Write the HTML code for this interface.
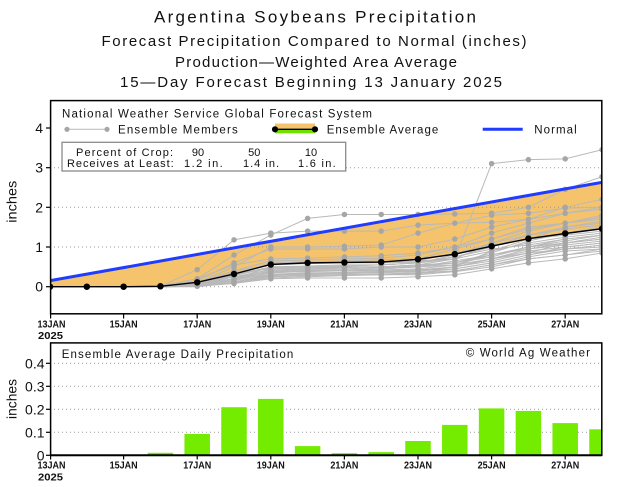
<!DOCTYPE html>
<html><head><meta charset="utf-8"><style>
html,body{margin:0;padding:0;background:#fff;}
svg{display:block;}
text{font-family:"Liberation Sans",sans-serif;fill:#111;}
.tk{font-weight:bold;font-size:10.5px;}
.gl{stroke:#999;stroke-width:1;stroke-dasharray:1 3;}
.ml{fill:none;stroke:#b9b9b9;stroke-width:1;vector-effect:non-scaling-stroke;}
.md{fill:none;stroke:#a6a6a6;stroke-width:5.5;stroke-linecap:round;vector-effect:non-scaling-stroke;}
</style></head><body>
<svg width="620" height="487" viewBox="0 0 620 487" xmlns="http://www.w3.org/2000/svg">
<rect width="620" height="487" fill="#fff"/>
<defs>
<clipPath id="c1"><rect x="50" y="100" width="552" height="214"/></clipPath>
<clipPath id="c2"><rect x="50" y="342" width="552" height="114"/></clipPath>
</defs>

<!-- Titles -->
<text x="315" y="22.5" font-size="17" text-anchor="middle" textLength="322" lengthAdjust="spacing">Argentina Soybeans Precipitation</text>
<text x="314" y="46" font-size="15" text-anchor="middle" textLength="425" lengthAdjust="spacing">Forecast Precipitation Compared to Normal (inches)</text>
<text x="316" y="67" font-size="15" text-anchor="middle" textLength="282" lengthAdjust="spacing">Production—Weighted Area Average</text>
<text x="311" y="87" font-size="15" text-anchor="middle" textLength="382" lengthAdjust="spacing">15—Day Forecast Beginning 13 January 2025</text>

<!-- ===== Top chart ===== -->
<g clip-path="url(#c1)">
<g transform="translate(50,286.7) scale(36.8,-39.7)">
<polygon fill="#f5c36c" points="0,0.15 15,2.63 15,1.46 14,1.34 13,1.21 12,1.02 11,0.82 10,0.69 9,0.62 8,0.61 7,0.60 6,0.56 5,0.32 4,0.11 3,0.01 2,0 1,0 0,0"/>
</g>
<line class="gl" x1="50" y1="286.7" x2="602" y2="286.7"/>
<line class="gl" x1="50" y1="247" x2="602" y2="247"/>
<line class="gl" x1="50" y1="207.3" x2="602" y2="207.3"/>
<line class="gl" x1="50" y1="167.7" x2="602" y2="167.7"/>
<g transform="translate(50,286.7) scale(36.8,-39.7)">
<polyline class="ml" points="0,0 1,0 2,0 3,0 4,.05 5,.3 6,.6 7,.62 8,.63 9,.63 10,.65 11,.7 12,3.1 13,3.2 14,3.22 15,3.45"/>
<polyline class="ml" points="0,0 1,0 2,0 3,.02 4,.2 5,.8 6,1.3 7,1.72 8,1.82 9,1.82 10,1.82 11,1.83 12,1.85 13,2.0 14,2.45 15,2.77"/>
<polyline class="ml" points="0,0 1,0 2,0 3,.01 4,.43 5,1.18 6,1.35 7,1.4 8,1.4 9,1.4 10,1.55 11,1.6 12,1.62 13,1.7 14,1.85 15,2.0"/>
<polyline class="ml" points="0,0 1,0 2,0 3,0 4,.1 5,.5 6,1.0 7,1.0 8,1.02 9,1.05 10,1.35 11,1.6 12,1.8 13,1.85 14,1.98 15,2.0"/>
<polyline class="ml" points="0,0 1,0 2,0 3,0 4,.15 5,.6 6,.95 7,.95 8,.95 9,1.0 10,1.0 11,1.2 12,1.5 13,1.7 14,2.0 15,2.2"/>
<polyline class="ml" points="0,0 1,0 2,0 3,.01 4,.1 5,.4 6,.65 7,.67 8,.7 9,.72 10,.8 11,1.0 12,1.35 13,1.6 14,1.85 15,1.95"/>
<polyline class="ml" points="0,0 1,0 2,0 3,0 4,.05 5,.3 6,.6 7,.62 8,.65 9,.68 10,.7 11,.95 12,1.2 13,1.5 14,1.6 15,1.8"/>
<polyline class="ml" points="0,0 1,0 2,0 3,0 4,.08 5,.2 6,.5 7,.5 8,.52 9,.55 10,.6 11,.75 12,1.0 13,1.3 14,1.5 15,1.65"/>
<polyline class="ml" points="0,0 1,0 2,0 3,0 4,.05 5,.15 6,.4 7,.45 8,.48 9,.5 10,.55 11,.7 12,1.1 13,1.4 14,1.6 15,1.7"/>
<polyline class="ml" points="0,0 1,0 2,0 3,0 4,.02 5,.1 6,.3 7,.35 8,.35 9,.37 10,.4 11,.5 12,.9 13,1.2 14,1.5 15,1.6"/>
<polyline class="ml" points="0,0 1,0 2,0 3,0 4,.1 5,.35 6,.45 7,.5 8,.5 9,.5 10,.55 11,.6 12,.8 13,1.0 14,1.2 15,1.3"/>
<polyline class="ml" points="0,0 1,0 2,0 3,0 4,.05 5,.25 6,.35 7,.38 8,.4 9,.4 10,.42 11,.5 12,.7 13,.9 14,1.0 15,1.1"/>
<polyline class="ml" points="0,0 1,0 2,0 3,0 4,.03 5,.12 6,.25 7,.28 8,.3 9,.3 10,.35 11,.45 12,.6 13,.8 14,.95 15,1.05"/>
<polyline class="ml" points="0,0 1,0 2,0 3,0 4,.01 5,.08 6,.2 7,.22 8,.22 9,.22 10,.25 11,.3 12,.45 13,.6 14,.7 15,.85"/>
<polyline class="ml" points="0,0 1,0 2,0 3,0 4,.02 5,.1 6,.3 7,.32 8,.33 9,.35 10,.38 11,.5 12,.65 13,.85 14,1.1 15,1.25"/>
<polyline class="ml" points="0,0 1,0 2,0 3,0 4,.1 5,.4 6,.55 7,.6 8,.6 9,.62 10,.65 11,.85 12,1.05 13,1.2 14,1.3 15,1.4"/>
<polyline class="ml" points="0,0 1,0 2,0 3,0 4,.05 5,.2 6,.45 7,.47 8,.5 9,.5 10,.52 11,.6 12,.75 13,1.0 14,1.1 15,1.2"/>
<polyline class="ml" points="0,0 1,0 2,0 3,0 4,.02 5,.15 6,.35 7,.4 8,.42 9,.45 10,.5 11,.55 12,.7 13,.85 14,.95 15,1.0"/>
<polyline class="ml" points="0,0 1,0 2,0 3,0 4,.08 5,.3 6,.5 7,.52 8,.55 9,.55 10,.6 11,.7 12,.9 13,1.1 14,1.25 15,1.35"/>
<polyline class="ml" points="0,0 1,0 2,0 3,0 4,0 5,.1 6,.28 7,.3 8,.3 9,.32 10,.35 11,.4 12,.55 13,.75 14,.9 15,.95"/>
<polyline class="ml" points="0,0 1,0 2,0 3,.01 4,.2 5,.55 6,.7 7,.72 8,.75 9,.78 10,.85 11,1.0 12,1.2 13,1.45 14,1.6 15,1.75"/>
<polyline class="ml" points="0,0 1,0 2,0 3,0 4,.05 5,.2 6,.4 7,.42 8,.42 9,.45 10,.5 11,.65 12,.8 13,.95 14,1.05 15,1.15"/>
<polyline class="ml" points="0,0 1,0 2,0 3,0 4,.02 5,.1 6,.22 7,.25 8,.28 9,.3 10,.3 11,.38 12,.5 13,.7 14,.8 15,.9"/>
<polyline class="ml" points="0,0 1,0 2,0 3,0 4,.03 5,.18 6,.38 7,.4 8,.4 9,.42 10,.45 11,.55 12,.8 13,1.0 14,1.15 15,1.3"/>
<polyline class="ml" points="0,0 1,0 2,0 3,0 4,.06 5,.25 6,.42 7,.45 8,.45 9,.48 10,.5 11,.6 12,.85 13,1.15 14,1.35 15,1.5"/>
<polyline class="ml" points="0,0 1,0 2,0 3,0 4,.04 5,.35 6,.55 7,.58 8,.6 9,.6 10,.62 11,.75 12,.95 13,1.05 14,1.2 15,1.3"/>
<polyline class="ml" points="0,0 1,0 2,0 3,0 4,.02 5,.12 6,.32 7,.34 8,.36 9,.38 10,.4 11,.45 12,.6 13,.8 14,1.0 15,1.1"/>
<polyline class="ml" points="0,0 1,0 2,0 3,0 4,.07 5,.28 6,.48 7,.5 8,.52 9,.55 10,.6 11,.8 12,1.1 13,1.3 14,1.45 15,1.55"/>
<polyline class="ml" points="0,0 1,0 2,0 3,0 4,.01 5,.1 6,.25 7,.28 8,.3 9,.3 10,.33 11,.4 12,.55 13,.7 14,.8 15,.95"/>
<polyline class="ml" points="0,0 1,0 2,0 3,0 4,.04 5,.2 6,.3 7,.32 8,.35 9,.38 10,.42 11,.5 12,.7 13,.95 14,1.1 15,1.2"/>
<path class="md" d="M4,.05h.001M5,.3h.001M6,.6h.001M7,.62h.001M8,.63h.001M9,.63h.001M10,.65h.001M11,.7h.001M12,3.1h.001M13,3.2h.001M14,3.22h.001M15,3.45h.001
M4,.2h.001M5,.8h.001M6,1.3h.001M7,1.72h.001M8,1.82h.001M9,1.82h.001M10,1.82h.001M11,1.83h.001M12,1.85h.001M13,2.0h.001M14,2.45h.001M15,2.77h.001
M4,.43h.001M5,1.18h.001M6,1.35h.001M7,1.4h.001M8,1.4h.001M9,1.4h.001M10,1.55h.001M11,1.6h.001M12,1.62h.001M13,1.7h.001M14,1.85h.001M15,2.0h.001
M4,.1h.001M5,.5h.001M6,1.0h.001M7,1.0h.001M8,1.02h.001M9,1.05h.001M10,1.35h.001M11,1.6h.001M12,1.8h.001M13,1.85h.001M14,1.98h.001M15,2.0h.001
M4,.15h.001M5,.6h.001M6,.95h.001M7,.95h.001M8,.95h.001M9,1.0h.001M10,1.0h.001M11,1.2h.001M12,1.5h.001M13,1.7h.001M14,2.0h.001M15,2.2h.001
M4,.1h.001M5,.4h.001M6,.65h.001M7,.67h.001M8,.7h.001M9,.72h.001M10,.8h.001M11,1.0h.001M12,1.35h.001M13,1.6h.001M14,1.85h.001M15,1.95h.001
M4,.05h.001M5,.3h.001M6,.6h.001M7,.62h.001M8,.65h.001M9,.68h.001M10,.7h.001M11,.95h.001M12,1.2h.001M13,1.5h.001M14,1.6h.001M15,1.8h.001
M4,.08h.001M5,.2h.001M6,.5h.001M7,.5h.001M8,.52h.001M9,.55h.001M10,.6h.001M11,.75h.001M12,1.0h.001M13,1.3h.001M14,1.5h.001M15,1.65h.001
M4,.05h.001M5,.15h.001M6,.4h.001M7,.45h.001M8,.48h.001M9,.5h.001M10,.55h.001M11,.7h.001M12,1.1h.001M13,1.4h.001M14,1.6h.001M15,1.7h.001
M4,.02h.001M5,.1h.001M6,.3h.001M7,.35h.001M8,.35h.001M9,.37h.001M10,.4h.001M11,.5h.001M12,.9h.001M13,1.2h.001M14,1.5h.001M15,1.6h.001
M4,.1h.001M5,.35h.001M6,.45h.001M7,.5h.001M8,.5h.001M9,.5h.001M10,.55h.001M11,.6h.001M12,.8h.001M13,1.0h.001M14,1.2h.001M15,1.3h.001
M4,.05h.001M5,.25h.001M6,.35h.001M7,.38h.001M8,.4h.001M9,.4h.001M10,.42h.001M11,.5h.001M12,.7h.001M13,.9h.001M14,1.0h.001M15,1.1h.001
M4,.03h.001M5,.12h.001M6,.25h.001M7,.28h.001M8,.3h.001M9,.3h.001M10,.35h.001M11,.45h.001M12,.6h.001M13,.8h.001M14,.95h.001M15,1.05h.001
M4,.01h.001M5,.08h.001M6,.2h.001M7,.22h.001M8,.22h.001M9,.22h.001M10,.25h.001M11,.3h.001M12,.45h.001M13,.6h.001M14,.7h.001M15,.85h.001
M4,.02h.001M5,.1h.001M6,.3h.001M7,.32h.001M8,.33h.001M9,.35h.001M10,.38h.001M11,.5h.001M12,.65h.001M13,.85h.001M14,1.1h.001M15,1.25h.001
M4,.1h.001M5,.4h.001M6,.55h.001M7,.6h.001M8,.6h.001M9,.62h.001M10,.65h.001M11,.85h.001M12,1.05h.001M13,1.2h.001M14,1.3h.001M15,1.4h.001
M4,.05h.001M5,.2h.001M6,.45h.001M7,.47h.001M8,.5h.001M9,.5h.001M10,.52h.001M11,.6h.001M12,.75h.001M13,1.0h.001M14,1.1h.001M15,1.2h.001
M4,.02h.001M5,.15h.001M6,.35h.001M7,.4h.001M8,.42h.001M9,.45h.001M10,.5h.001M11,.55h.001M12,.7h.001M13,.85h.001M14,.95h.001M15,1.0h.001
M4,.08h.001M5,.3h.001M6,.5h.001M7,.52h.001M8,.55h.001M9,.55h.001M10,.6h.001M11,.7h.001M12,.9h.001M13,1.1h.001M14,1.25h.001M15,1.35h.001
M5,.1h.001M6,.28h.001M7,.3h.001M8,.3h.001M9,.32h.001M10,.35h.001M11,.4h.001M12,.55h.001M13,.75h.001M14,.9h.001M15,.95h.001
M4,.2h.001M5,.55h.001M6,.7h.001M7,.72h.001M8,.75h.001M9,.78h.001M10,.85h.001M11,1.0h.001M12,1.2h.001M13,1.45h.001M14,1.6h.001M15,1.75h.001
M4,.05h.001M5,.2h.001M6,.4h.001M7,.42h.001M8,.42h.001M9,.45h.001M10,.5h.001M11,.65h.001M12,.8h.001M13,.95h.001M14,1.05h.001M15,1.15h.001
M4,.02h.001M5,.1h.001M6,.22h.001M7,.25h.001M8,.28h.001M9,.3h.001M10,.3h.001M11,.38h.001M12,.5h.001M13,.7h.001M14,.8h.001M15,.9h.001
M4,.03h.001M5,.18h.001M6,.38h.001M7,.4h.001M8,.4h.001M9,.42h.001M10,.45h.001M11,.55h.001M12,.8h.001M13,1.0h.001M14,1.15h.001M15,1.3h.001
M4,.06h.001M5,.25h.001M6,.42h.001M7,.45h.001M8,.45h.001M9,.48h.001M10,.5h.001M11,.6h.001M12,.85h.001M13,1.15h.001M14,1.35h.001M15,1.5h.001
M4,.04h.001M5,.35h.001M6,.55h.001M7,.58h.001M8,.6h.001M9,.6h.001M10,.62h.001M11,.75h.001M12,.95h.001M13,1.05h.001M14,1.2h.001M15,1.3h.001
M4,.02h.001M5,.12h.001M6,.32h.001M7,.34h.001M8,.36h.001M9,.38h.001M10,.4h.001M11,.45h.001M12,.6h.001M13,.8h.001M14,1.0h.001M15,1.1h.001
M4,.07h.001M5,.28h.001M6,.48h.001M7,.5h.001M8,.52h.001M9,.55h.001M10,.6h.001M11,.8h.001M12,1.1h.001M13,1.3h.001M14,1.45h.001M15,1.55h.001
M4,.01h.001M5,.1h.001M6,.25h.001M7,.28h.001M8,.3h.001M9,.3h.001M10,.33h.001M11,.4h.001M12,.55h.001M13,.7h.001M14,.8h.001M15,.95h.001
M4,.04h.001M5,.2h.001M6,.3h.001M7,.32h.001M8,.35h.001M9,.38h.001M10,.42h.001M11,.5h.001M12,.7h.001M13,.95h.001M14,1.1h.001M15,1.2h.001"/>
<polyline fill="none" stroke="#000" stroke-width="1.4" vector-effect="non-scaling-stroke" points="0,0 1,0 2,0 3,0.01 4,0.11 5,0.32 6,0.56 7,0.60 8,0.61 9,0.62 10,0.69 11,0.82 12,1.02 13,1.21 14,1.34 15,1.46"/>
<path fill="none" stroke="#000" stroke-width="6.5" stroke-linecap="round" vector-effect="non-scaling-stroke" d="M0,0h.001M1,0h.001M2,0h.001M3,.01h.001M4,.11h.001M5,.32h.001M6,.56h.001M7,.6h.001M8,.61h.001M9,.62h.001M10,.69h.001M11,.82h.001M12,1.02h.001M13,1.21h.001M14,1.34h.001M15,1.46h.001"/>
</g>
<line x1="50" y1="280.7" x2="602" y2="182.3" stroke="#1f3cff" stroke-width="3"/>
</g>

<!-- Legend -->
<text x="62" y="117.6" font-size="11.5" textLength="310" lengthAdjust="spacing">National Weather Service Global Forecast System</text>
<line x1="67" y1="129.3" x2="107" y2="129.3" stroke="#b9b9b9" stroke-width="1"/>
<circle cx="67" cy="129.3" r="2.6" fill="#a6a6a6"/><circle cx="107" cy="129.3" r="2.6" fill="#a6a6a6"/>
<text x="118" y="133.5" font-size="11.5" textLength="119.7" lengthAdjust="spacing">Ensemble Members</text>
<rect x="275" y="123.5" width="40" height="5.8" fill="#f5c36c"/>
<rect x="275" y="129.3" width="40" height="4" fill="#6fe000"/>
<line x1="275" y1="129.3" x2="315" y2="129.3" stroke="#000" stroke-width="1.4"/>
<circle cx="275" cy="129.3" r="3.1" fill="#000"/><circle cx="315" cy="129.3" r="3.1" fill="#000"/>
<text x="326.7" y="133.5" font-size="11.5" textLength="111.6" lengthAdjust="spacing">Ensemble Average</text>
<line x1="482.7" y1="129.3" x2="522.7" y2="129.3" stroke="#1f3cff" stroke-width="3"/>
<text x="534.3" y="133.5" font-size="11.5" textLength="42.4" lengthAdjust="spacing">Normal</text>

<rect x="62" y="142.3" width="283.7" height="28.7" fill="#fff" stroke="#8a8a8a" stroke-width="1.3"/>
<text x="76" y="155.8" font-size="11" textLength="97" lengthAdjust="spacing">Percent of Crop:</text>
<text x="198" y="155.8" font-size="11" text-anchor="middle">90</text>
<text x="254.3" y="155.8" font-size="11" text-anchor="middle">50</text>
<text x="311" y="155.8" font-size="11" text-anchor="middle">10</text>
<text x="67" y="166.8" font-size="11" textLength="106.7" lengthAdjust="spacing">Receives at Least:</text>
<text x="184" y="166.8" font-size="11" textLength="38.7" lengthAdjust="spacing">1.2 in.</text>
<text x="243" y="166.8" font-size="11" textLength="36" lengthAdjust="spacing">1.4 in.</text>
<text x="298" y="166.8" font-size="11" textLength="37.7" lengthAdjust="spacing">1.6 in.</text>

<!-- frame & axes top -->
<rect x="50.6" y="100.6" width="551.2" height="213.2" fill="none" stroke="#000" stroke-width="1.5"/>
<g stroke="#000" stroke-width="1.2">
<line x1="46" y1="286.7" x2="50" y2="286.7"/><line x1="46" y1="247" x2="50" y2="247"/>
<line x1="46" y1="207.3" x2="50" y2="207.3"/><line x1="46" y1="167.7" x2="50" y2="167.7"/>
<line x1="46" y1="128" x2="50" y2="128"/>
<line x1="50.6" y1="314" x2="50.6" y2="318.5"/><line x1="123.6" y1="314" x2="123.6" y2="318.5"/>
<line x1="197.2" y1="314" x2="197.2" y2="318.5"/><line x1="270.8" y1="314" x2="270.8" y2="318.5"/>
<line x1="344.4" y1="314" x2="344.4" y2="318.5"/><line x1="418" y1="314" x2="418" y2="318.5"/>
<line x1="491.6" y1="314" x2="491.6" y2="318.5"/><line x1="565.2" y1="314" x2="565.2" y2="318.5"/>
</g>
<g font-size="14" text-anchor="end">
<text x="43" y="291.7">0</text><text x="43" y="252">1</text><text x="43" y="212.3">2</text>
<text x="43" y="172.7">3</text><text x="43" y="133">4</text>
</g>
<text transform="translate(16.5,201.7) rotate(-90)" font-size="14" text-anchor="middle" textLength="42" lengthAdjust="spacingAndGlyphs">inches</text>
<g class="tk" text-anchor="middle">
<text class="tk" x="51.5" y="327.5" textLength="28" lengthAdjust="spacingAndGlyphs">13JAN</text>
<text class="tk" x="50.5" y="339" textLength="25" lengthAdjust="spacingAndGlyphs">2025</text>
<text class="tk" x="123.6" y="327.5" textLength="28" lengthAdjust="spacingAndGlyphs">15JAN</text>
<text class="tk" x="197.2" y="327.5" textLength="28" lengthAdjust="spacingAndGlyphs">17JAN</text>
<text class="tk" x="270.8" y="327.5" textLength="28" lengthAdjust="spacingAndGlyphs">19JAN</text>
<text class="tk" x="344.4" y="327.5" textLength="28" lengthAdjust="spacingAndGlyphs">21JAN</text>
<text class="tk" x="418" y="327.5" textLength="28" lengthAdjust="spacingAndGlyphs">23JAN</text>
<text class="tk" x="491.6" y="327.5" textLength="28" lengthAdjust="spacingAndGlyphs">25JAN</text>
<text class="tk" x="565.2" y="327.5" textLength="28" lengthAdjust="spacingAndGlyphs">27JAN</text>
</g>

<!-- ===== Bottom chart ===== -->
<line class="gl" x1="50" y1="432.3" x2="602" y2="432.3"/>
<line class="gl" x1="50" y1="409.3" x2="602" y2="409.3"/>
<line class="gl" x1="50" y1="386.3" x2="602" y2="386.3"/>
<line class="gl" x1="50" y1="363.3" x2="602" y2="363.3"/>
<g clip-path="url(#c2)" fill="#74ec00">
<rect x="147.65" y="452.8" width="25.5" height="2.5"/>
<rect x="184.45" y="433.9" width="25.5" height="21.4"/>
<rect x="221.25" y="407.2" width="25.5" height="48.1"/>
<rect x="258.05" y="398.9" width="25.5" height="56.4"/>
<rect x="294.85" y="446.1" width="25.5" height="9.2"/>
<rect x="331.65" y="453.2" width="25.5" height="2.1"/>
<rect x="368.45" y="452.1" width="25.5" height="3.2"/>
<rect x="405.25" y="441" width="25.5" height="14.3"/>
<rect x="442.05" y="424.9" width="25.5" height="30.4"/>
<rect x="478.85" y="408.4" width="25.5" height="46.9"/>
<rect x="515.65" y="410.9" width="25.5" height="44.4"/>
<rect x="552.45" y="423.1" width="25.5" height="32.2"/>
<rect x="589.25" y="429.3" width="14" height="26"/>
</g>
<rect x="50.6" y="342.9" width="551.2" height="112.4" fill="none" stroke="#000" stroke-width="1.5"/>
<line x1="50" y1="455.3" x2="602" y2="455.3" stroke="#000" stroke-width="2"/>
<text x="61.7" y="358" font-size="11.5" textLength="231.6" lengthAdjust="spacing">Ensemble Average Daily Precipitation</text>
<text x="465.7" y="356.7" font-size="11.5" textLength="124.3" lengthAdjust="spacing">© World Ag Weather</text>
<g stroke="#000" stroke-width="1.2">
<line x1="46" y1="455.3" x2="50" y2="455.3"/><line x1="46" y1="432.3" x2="50" y2="432.3"/>
<line x1="46" y1="409.3" x2="50" y2="409.3"/><line x1="46" y1="386.3" x2="50" y2="386.3"/>
<line x1="46" y1="363.3" x2="50" y2="363.3"/>
<line x1="50.6" y1="455.3" x2="50.6" y2="459.5"/><line x1="123.6" y1="455.3" x2="123.6" y2="459.5"/>
<line x1="197.2" y1="455.3" x2="197.2" y2="459.5"/><line x1="270.8" y1="455.3" x2="270.8" y2="459.5"/>
<line x1="344.4" y1="455.3" x2="344.4" y2="459.5"/><line x1="418" y1="455.3" x2="418" y2="459.5"/>
<line x1="491.6" y1="455.3" x2="491.6" y2="459.5"/><line x1="565.2" y1="455.3" x2="565.2" y2="459.5"/>
</g>
<g font-size="14" text-anchor="end">
<text x="44.5" y="460.3">0</text><text x="44.5" y="437.3">0.1</text><text x="44.5" y="414.3">0.2</text>
<text x="44.5" y="391.3">0.3</text><text x="44.5" y="368.3">0.4</text>
</g>
<text transform="translate(16.5,399) rotate(-90)" font-size="14" text-anchor="middle" textLength="40" lengthAdjust="spacingAndGlyphs">inches</text>
<g text-anchor="middle">
<text class="tk" x="51.5" y="468.5" textLength="28" lengthAdjust="spacingAndGlyphs">13JAN</text>
<text class="tk" x="50.5" y="480.7" textLength="25" lengthAdjust="spacingAndGlyphs">2025</text>
<text class="tk" x="123.6" y="468.5" textLength="28" lengthAdjust="spacingAndGlyphs">15JAN</text>
<text class="tk" x="197.2" y="468.5" textLength="28" lengthAdjust="spacingAndGlyphs">17JAN</text>
<text class="tk" x="270.8" y="468.5" textLength="28" lengthAdjust="spacingAndGlyphs">19JAN</text>
<text class="tk" x="344.4" y="468.5" textLength="28" lengthAdjust="spacingAndGlyphs">21JAN</text>
<text class="tk" x="418" y="468.5" textLength="28" lengthAdjust="spacingAndGlyphs">23JAN</text>
<text class="tk" x="491.6" y="468.5" textLength="28" lengthAdjust="spacingAndGlyphs">25JAN</text>
<text class="tk" x="565.2" y="468.5" textLength="28" lengthAdjust="spacingAndGlyphs">27JAN</text>
</g>
</svg>
</body></html>
